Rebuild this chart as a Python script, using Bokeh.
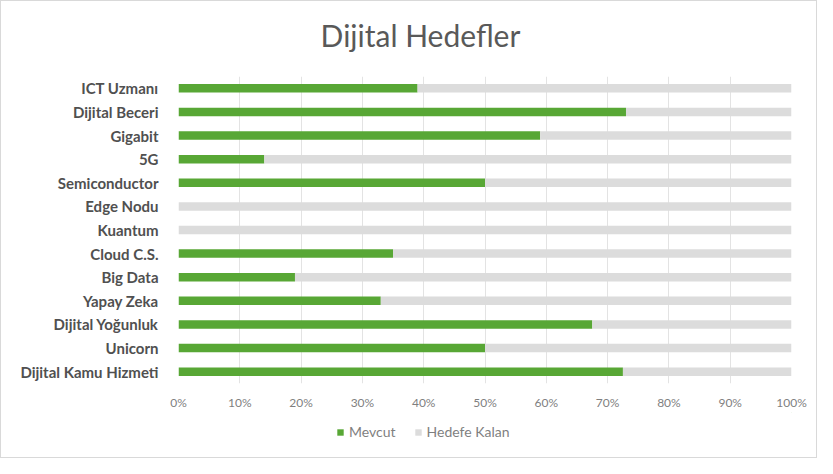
from bokeh.plotting import figure
from bokeh.models import ColumnDataSource, Legend, LegendItem, FixedTicker, Label
from bokeh.layouts import column
from bokeh.embed import file_html
from bokeh.resources import INLINE

categories = ["ICT Uzmanı", "Dijital Beceri", "Gigabit", "5G", "Semiconductor",
              "Edge Nodu", "Kuantum", "Cloud C.S.", "Big Data", "Yapay Zeka",
              "Dijital Yoğunluk", "Unicorn", "Dijital Kamu Hizmeti"]
mevcut = [39, 73, 59, 14, 50, 0, 0, 35, 19, 33, 67.5, 50, 72.5]
hedef = 100
x_ticks = [0, 10, 20, 30, 40, 50, 60, 70, 80, 90, 100]
title_text = "Dijital Hedefler"
series_names = ["Mevcut", "Hedefe Kalan"]

kalan = [hedef - v for v in mevcut]
src = ColumnDataSource(dict(cat=categories, mevcut=mevcut, kalan=kalan,
                            zero=[0] * len(categories), full=[hedef] * len(categories)))

FONT = "Lato"
GREEN = "#58A735"
GRAY = "#DCDCDC"
W = 815


def blank_fig(h):
    f = figure(width=W, height=h, x_range=(0, 1), y_range=(0, 1),
               output_backend="svg", toolbar_location=None,
               x_axis_location=None, y_axis_location=None,
               min_border=0, min_border_left=0, min_border_right=0,
               min_border_top=0, min_border_bottom=0)
    f.outline_line_color = None
    f.grid.grid_line_color = None
    return f


# title
pt = blank_fig(65)
pt.add_layout(Label(x=242, y=32, x_units="screen", y_units="screen", text=title_text,
                    text_font=FONT, text_font_size="30px", text_color="#595959",
                    text_align="center", text_baseline="middle"))

# main chart
p = figure(width=W, height=346, y_range=list(reversed(categories)), x_range=(0, 100),
           output_backend="svg", toolbar_location=None,
           min_border_left=177, min_border_right=25, min_border_top=10, min_border_bottom=28)

r1 = p.hbar(y="cat", left="zero", right="mevcut", height=0.36, source=src,
            fill_color=GREEN, line_color=None)
r2 = p.hbar(y="cat", left="mevcut", right="full", height=0.36, source=src,
            fill_color=GRAY, line_color=None)

p.outline_line_color = None
p.ygrid.grid_line_color = None
p.xgrid.grid_line_color = "#E3E3E3"
p.xaxis.ticker = FixedTicker(ticks=x_ticks)
p.xaxis.major_label_overrides = {t: f"{t}%" for t in x_ticks}
for ax in (p.xaxis, p.yaxis):
    ax.axis_line_color = None
    ax.major_tick_line_color = None
    ax.minor_tick_line_color = None
p.xaxis.major_label_text_font = FONT
p.xaxis.major_label_text_font_size = "12px"
p.xaxis.major_label_text_color = "#7F7F7F"
p.xaxis.major_label_standoff = 5
p.yaxis.major_label_text_font = FONT
p.yaxis.major_label_text_font_size = "15px"
p.yaxis.major_label_text_font_style = "bold"
p.yaxis.major_label_text_color = "#505050"
p.yaxis.major_label_standoff = 14

# legend (sample renderers sit outside the visible range; only their legend glyphs show)
pl = blank_fig(45)
l1 = pl.hbar(y=[5], left=[5], right=[6], height=0.5, fill_color=GREEN, line_color=None)
l2 = pl.hbar(y=[5], left=[5], right=[6], height=0.5, fill_color=GRAY, line_color=None)
legend = Legend(items=[LegendItem(label=series_names[0], renderers=[l1]),
                       LegendItem(label=series_names[1], renderers=[l2])],
                orientation="horizontal", location=(158, 17),
                border_line_color=None, background_fill_alpha=0,
                label_text_font=FONT, label_text_font_size="14px",
                label_text_color="#7F7F7F", glyph_width=8, glyph_height=8,
                spacing=18, padding=4, label_standoff=5)
pl.add_layout(legend, "center")

layout = column(pt, p, pl, spacing=0)
layout.styles = {"border": "1px solid #d9d9d9", "background-color": "white"}

open("out.html", "w").write(file_html(layout, INLINE))
